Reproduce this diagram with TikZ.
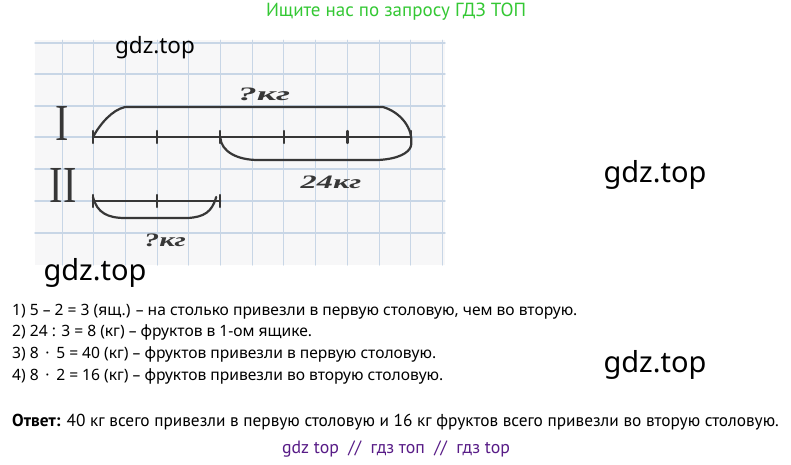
\documentclass[tikz,border=0pt]{standalone}
\usepackage{fontspec}
\setmainfont{Noto Sans}
\newfontfamily\narrowfont{PT Sans}
\newfontfamily\handfont{Liberation Serif}
\usetikzlibrary{positioning}

\definecolor{gridblue}{RGB}{200,214,230}
\definecolor{paper}{RGB}{247,247,248}
\definecolor{pencil}{RGB}{55,55,55}
\definecolor{gdzgreen}{RGB}{52,200,52}
\definecolor{gdzpurple}{RGB}{88,28,135}

\begin{document}
\begin{tikzpicture}[x=1pt,y=-1pt,line cap=round,
	ink/.style={draw=pencil,line width=2.2pt},
	hand/.style={font=\fontsize{19}{19}\handfont\bfseries\itshape,text=pencil,inner sep=0pt,xscale=2,transform shape},
	roman/.style={font=\fontsize{40}{40}\handfont,text=pencil,inner sep=0pt,yscale=1.3,transform shape},
	wm/.style={font=\fontsize{29}{29}\selectfont,inner sep=0pt},
	sol/.style={font=\fontsize{15.6}{15.6}\selectfont,anchor=mid west,inner sep=0pt}]
	\useasboundingbox[fill=white] (0,0) rectangle (791,464);

	% notebook photo
	\fill[paper] (35,40) rectangle (445,265);
	\foreach \y in {43,74,106,137,169,201,233}
		\draw[gridblue,line width=1.4pt] (35,\y) -- (445,\y);
	\foreach \i in {0,...,12}
		\draw[gridblue,line width=1pt] (62+31.7*\i,40) -- (62+31.7*\i,265);

	% segment I
	\foreach \i in {0,...,5}
		\coordinate (a\i) at (93+63.6*\i,137);
	\draw[ink] (a0) -- (a5);
	\foreach \i in {0,...,5}
		\draw[ink] ([yshift=-6pt]a\i) -- ([yshift=6pt]a\i);
	\coordinate (topl) at (125,107);
	\coordinate (topr) at (383,107);
	\coordinate (endr) at (411,146);
	\draw[ink] (a0) .. controls (100,124) and (112,110) .. (topl) -- (topr) .. controls (400,112) and (414,128) .. (endr);
	\coordinate (botl) at (258,160);
	\coordinate (botr) at (378,160);
	\draw[ink] (a2) .. controls (221,152) and (238,160) .. (botl) -- (botr) .. controls (398,159) and (409,153) .. (endr);

	% segment II
	\foreach \i in {0,...,2}
		\coordinate (b\i) at (93+63.6*\i,201);
	\draw[ink] (b0) -- (b2);
	\foreach \i in {0,...,2}
		\draw[ink] ([yshift=-6pt]b\i) -- ([yshift=6pt]b\i);
	\coordinate (lowl) at (125,218);
	\coordinate (lowr) at (188,218);
	\draw[ink] ([yshift=4pt]b0) .. controls (97,213) and (108,218) .. (lowl) -- (lowr) .. controls (204,217) and (212,212) .. ([xshift=-4pt,yshift=4pt]b2);

	% labels on the photo
	\node[roman] (rI) at (62,123) {I};
	\node[roman] (rII) at (63,185) {II};
	\node[hand] (qI) at (264,94) {?кг};
	\node[hand,xscale=0.85] (kg24) at (331,182) {24кг};
	\node[hand,xscale=0.8] (qII) at (165,240) {?кг};

	% watermarks
	\node[wm,font=\fontsize{22.5}{22.5}\selectfont] (wm1) at (155,48) {gdz.top};
	\node[wm] (wm2) at (655,175) {gdz.top};
	\node[wm] (wm3) at (95,273) {gdz.top};
	\node[wm] (wm4) at (655,365) {gdz.top};

	% texts
	\node[font=\fontsize{19}{19}\narrowfont,text=gdzgreen,inner sep=0pt] (head) at (396,12) {Ищите нас по запросу ГДЗ ТОП};
	\node[sol] (s1) at (12,313) {1) 5 – 2 = 3 (ящ.) – на столько привезли в первую столовую, чем во вторую.};
	\node[sol] (s2) at (12,334) {2) 24 : 3 = 8 (кг) – фруктов в 1-ом ящике.};
	\node[sol] (s3) at (12,356) {3) 8 \,·\, 5 = 40 (кг) – фруктов привезли в первую столовую.};
	\node[sol] (s4) at (12,378) {4) 8 \,·\, 2 = 16 (кг) – фруктов привезли во вторую столовую.};
	\node[font=\fontsize{17.3}{17.3}\narrowfont,anchor=mid west,inner sep=0pt] (ans) at (12,424) {\textbf{Ответ:} 40 кг всего привезли в первую столовую и 16 кг фруктов всего привезли во вторую столовую.};
	\node[font=\fontsize{17.8}{17.8}\narrowfont,text=gdzpurple,inner sep=0pt] (foot) at (396,449) {gdz top \ // \ гдз топ \ // \ гдз top};
\end{tikzpicture}
\end{document}
